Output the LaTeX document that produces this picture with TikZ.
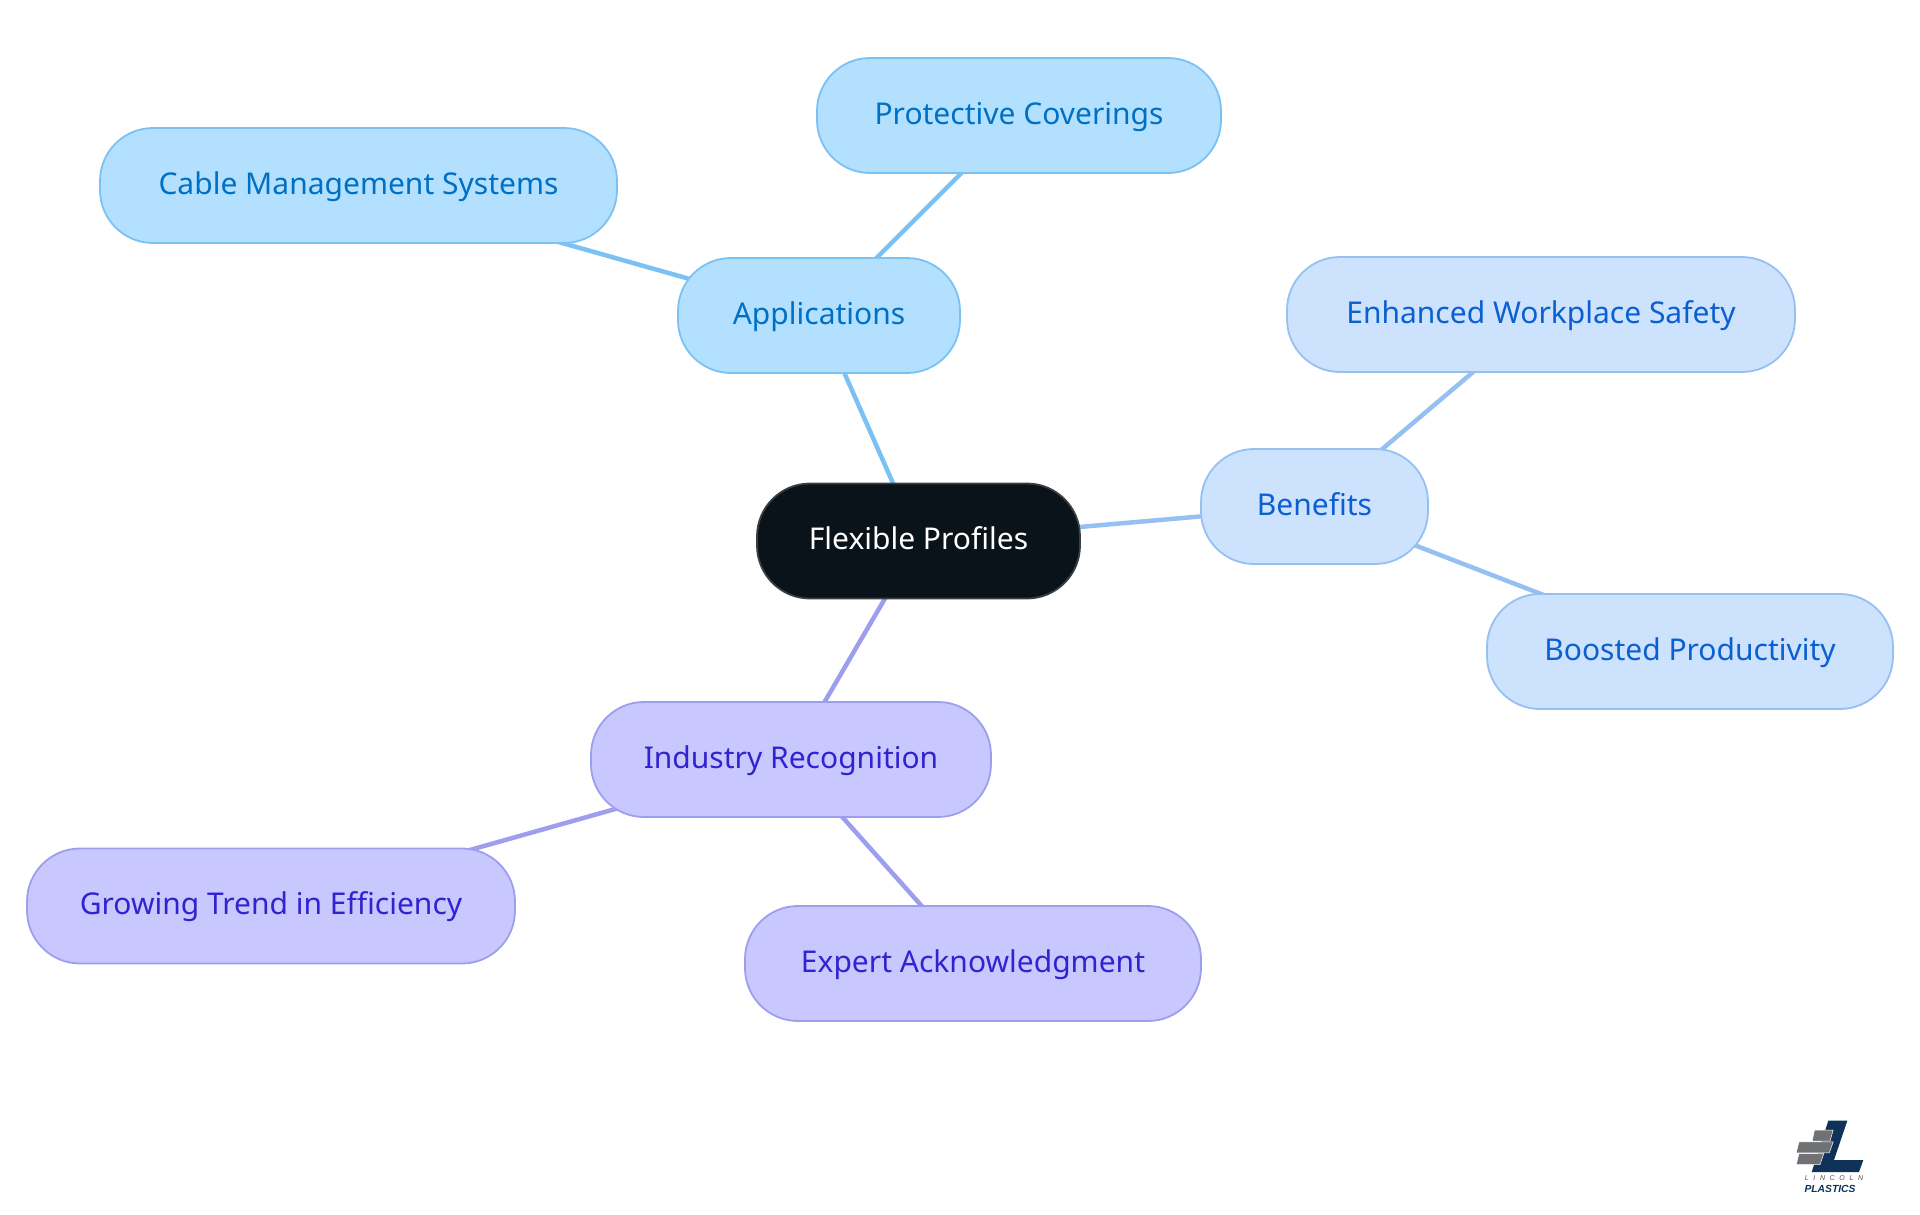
\documentclass[tikz,border=0pt]{standalone}
\usepackage{fontspec}
\setmainfont{Noto Sans}
\newfontfamily\logofont{Liberation Sans}
\usetikzlibrary{backgrounds}
\definecolor{appF}{HTML}{B3E0FF}\definecolor{appS}{HTML}{7CC1F4}\definecolor{appT}{HTML}{0070C4}
\definecolor{benF}{HTML}{CCE2FD}\definecolor{benS}{HTML}{96C0F2}\definecolor{benT}{HTML}{0B5FD0}
\definecolor{indF}{HTML}{C8C8FF}\definecolor{indS}{HTML}{9E9EEE}\definecolor{indT}{HTML}{3222D0}
\definecolor{rootF}{HTML}{0A121A}\definecolor{rootS}{HTML}{3A3F44}
\definecolor{navy}{HTML}{0F3358}\definecolor{slate}{HTML}{6F7174}
\tikzset{
 pill/.style={rounded corners=53pt,minimum height=115pt,inner sep=0pt,line width=1.8pt,text height=22pt,text depth=5pt,font=\fontsize{30}{36}\selectfont},
 rootnode/.style={pill,draw=rootS,fill=rootF,text=white},
 appnode/.style={pill,draw=appS,fill=appF,text=appT},
 bennode/.style={pill,draw=benS,fill=benF,text=benT},
 indnode/.style={pill,draw=indS,fill=indF,text=indT},
 link/.style={line width=4.5pt},
 logoN/.style={fill=navy,draw=none},
 logoG/.style={fill=slate,draw=white,line width=0.5pt}
}
\begin{document}
\begin{tikzpicture}[x=1pt,y=-1pt]
\useasboundingbox (0,0) rectangle (1920,1215);
\node[rootnode,minimum width=323pt] (root) at (918.5,541) {Flexible Profiles};
\node[appnode,minimum width=282pt] (app) at (819,315.5) {Applications};
\node[appnode,minimum width=404pt] (prot) at (1019,115.5) {Protective Coverings};
\node[appnode,minimum width=517pt] (cable) at (358.5,185.5) {Cable Management Systems};
\node[bennode,minimum width=227pt] (ben) at (1314.5,506.5) {Benefits};
\node[bennode,minimum width=508pt] (safe) at (1541,314.5) {Enhanced Workplace Safety};
\node[bennode,minimum width=406pt] (boost) at (1690,651.5) {Boosted Productivity};
\node[indnode,minimum width=400pt] (ind) at (791,759.5) {Industry Recognition};
\node[indnode,minimum width=488pt] (grow) at (271,906) {Growing Trend in Efficiency};
\node[indnode,minimum width=456pt] (exp) at (973,963.5) {Expert Acknowledgment};
\begin{pgfonlayer}{background}
\draw[link,appS] (root.center) -- (app.center);
\draw[link,appS] (app.center) -- (prot.center);
\draw[link,appS] (app.center) -- (cable.center);
\draw[link,benS] (root.center) -- (ben.center);
\draw[link,benS] (ben.center) -- (safe.center);
\draw[link,benS] (ben.center) -- (boost.center);
\draw[link,indS] (root.center) -- (ind.center);
\draw[link,indS] (ind.center) -- (grow.center);
\draw[link,indS] (ind.center) -- (exp.center);
\end{pgfonlayer}
% logo
\fill[logoN] (1828.3,1120.7) -- (1847.3,1120.7) -- (1834,1160) -- (1863.3,1160) -- (1859,1172) -- (1811.7,1172) -- cycle;
\filldraw[logoG] (1814.5,1130) -- (1833.2,1130) -- (1830,1141) -- (1812.2,1141) -- cycle;
\filldraw[logoG] (1799,1141.8) -- (1833.2,1141.8) -- (1829.3,1152.8) -- (1796.2,1152.8) -- cycle;
\filldraw[logoG] (1799,1153.6) -- (1823.7,1153.6) -- (1820,1164.6) -- (1796.2,1164.6) -- cycle;
\node[inner sep=0pt,text=slate!70!black,font=\logofont\fontsize{7}{8}\selectfont\itshape] (logoa) at (1834,1178.5) {L\,\,\,\,I\,\,\,\,N\,\,\,\,C\,\,\,\,O\,\,\,\,L\,\,\,\,N};
\node[inner sep=0pt,text=navy,font=\logofont\fontsize{10.3}{12}\selectfont\bfseries\itshape] (logob) at (1830,1188.7) {PLASTICS};
\end{tikzpicture}
\end{document}
